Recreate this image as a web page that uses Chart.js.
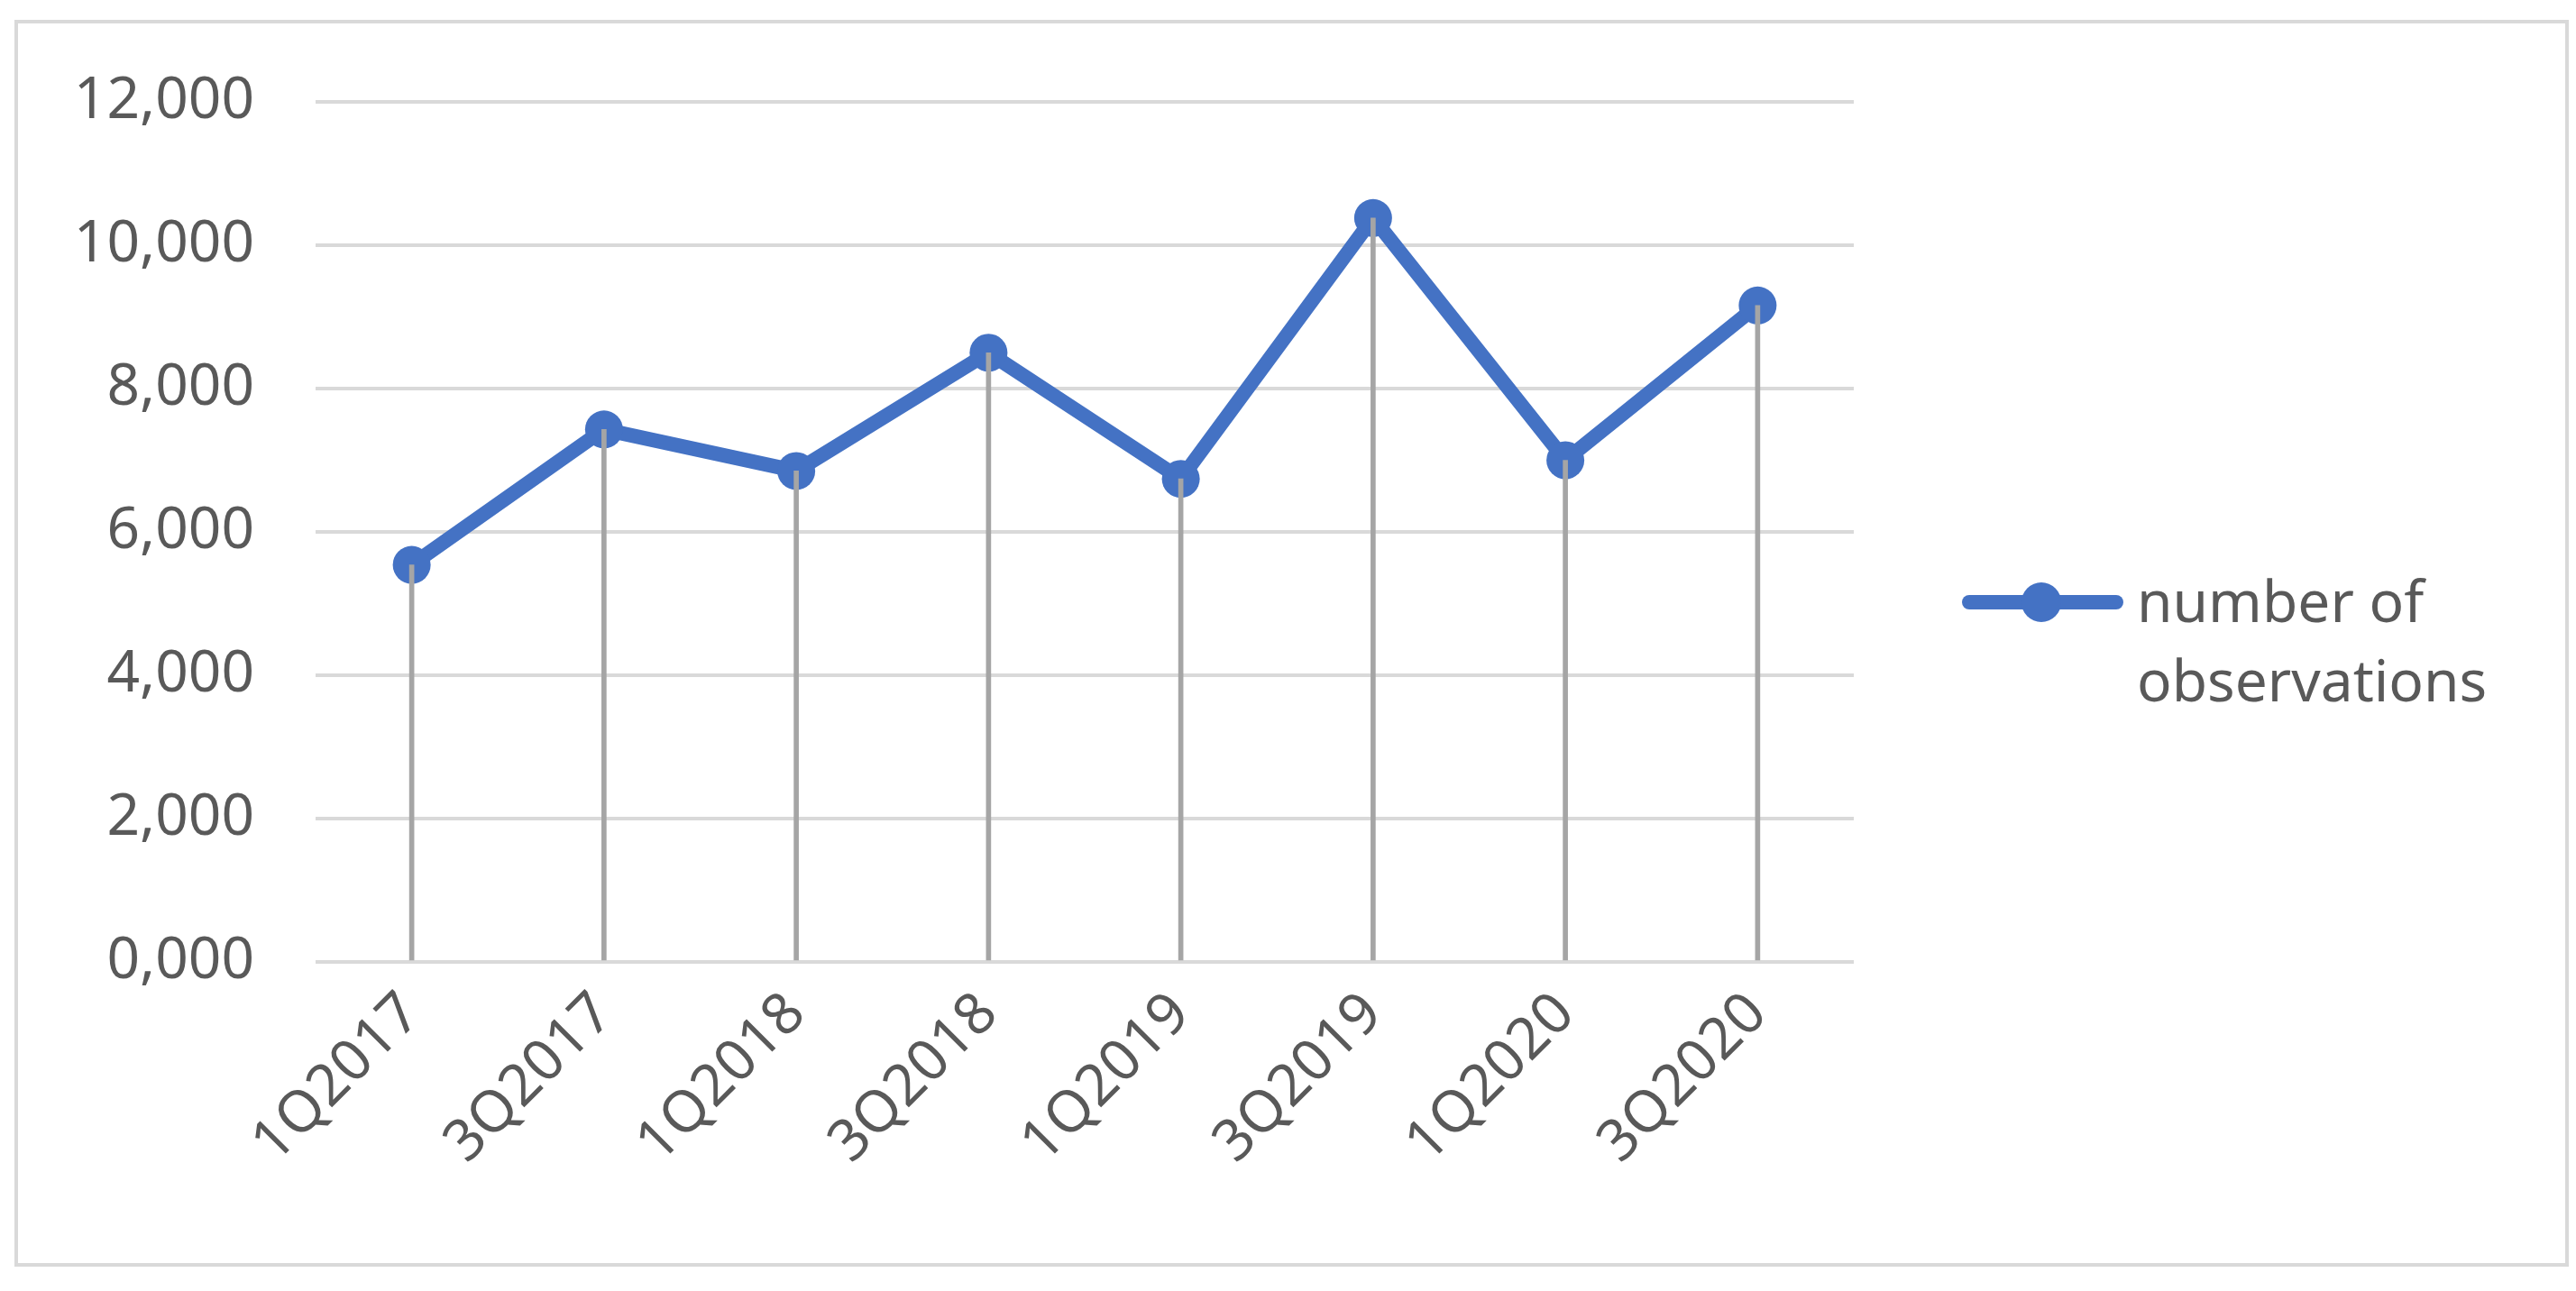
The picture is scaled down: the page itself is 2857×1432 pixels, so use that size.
<!DOCTYPE html>
<html>
<head>
<meta charset="utf-8">
<script src="https://cdn.jsdelivr.net/npm/chart.js@4/dist/chart.umd.min.js"></script>
<style>
  body { margin: 0; background: #fff; }
  #page { position: relative; width: 2857px; height: 1432px; overflow: hidden; }
  #frame { position: absolute; left: 16px; top: 22px; width: 2833px; height: 1383px;
           border: 4px solid #d9d9d9; box-sizing: border-box; }
  #chart { position: absolute; left: 0; top: 0; }
  .legend-line { position: absolute; left: 2176px; top: 660px; width: 179px; height: 16px;
                 background: #4472C4; border-radius: 8px; }
  .legend-dot { position: absolute; left: 2242px; top: 646px; width: 44px; height: 44px;
                background: #4472C4; border-radius: 50%; }
  .legend-text { position: absolute; left: 2370px; top: 622px; font-family: "Noto Sans", sans-serif;
                 font-size: 64px; line-height: 88px; color: #595959; }
</style>
</head>
<body>
<div id="page">
  <div id="frame"></div>
  <canvas id="chart" width="2857" height="1432"></canvas>
  <div class="legend-line"></div>
  <div class="legend-dot"></div>
  <div class="legend-text">number of<br>observations</div>
</div>
<script>
const quarters = ["1Q2017", "3Q2017", "1Q2018", "3Q2018", "1Q2019", "3Q2019", "1Q2020", "3Q2020"]
const observations = [5540, 7430, 6850, 8500, 6740, 10380, 7000, 9160]
const yTickLabels = ["0,000", "2,000", "4,000", "6,000", "8,000", "10,000", "12,000"]

const seriesName = "number of observations"
const blue = "#4472C4"
const textColor = "#595959"
const tickFont = { family: "Noto Sans", size: 64 }

const makeChart = () => {
    var ctx = document.getElementById("chart")

    new Chart(ctx, {
        data: {
            labels: quarters,
            datasets: [
                {
                    // drop lines
                    type: "bar",
                    data: observations,
                    backgroundColor: "#a5a5a5",
                    barThickness: 5,
                    order: 0,
                },
                {
                    type: "line",
                    label: seriesName,
                    data: observations,
                    borderColor: blue,
                    backgroundColor: blue,
                    borderWidth: 16,
                    pointRadius: 21,
                    pointBorderWidth: 0,
                    pointBackgroundColor: blue,
                    tension: 0,
                    order: 1,
                },
            ],
        },
        options: {
            responsive: false,
            animation: false,
            layout: {
                padding: { left: 40, right: 801, top: 113, bottom: 65 },
            },
            plugins: {
                legend: { display: false },
                tooltip: { enabled: false },
            },
            scales: {
                x: {
                    type: "category",
                    offset: true,
                    grid: { display: false },
                    border: { display: false },
                    ticks: {
                        color: textColor,
                        font: tickFont,
                        minRotation: 45,
                        maxRotation: 45,
                        autoSkip: false,
                        padding: 12,
                    },
                    afterFit: (scale) => { scale.height = 300 },
                },
                y: {
                    min: 0,
                    max: 12000,
                    grid: { color: "#d9d9d9", lineWidth: 4, drawTicks: false },
                    border: { display: false },
                    ticks: {
                        stepSize: 2000,
                        color: textColor,
                        font: tickFont,
                        padding: 68,
                        callback: (value, index) => yTickLabels[index],
                    },
                    afterFit: (scale) => { scale.width = 310 },
                },
            },
        },
    })
}

makeChart()
</script>
</body>
</html>
